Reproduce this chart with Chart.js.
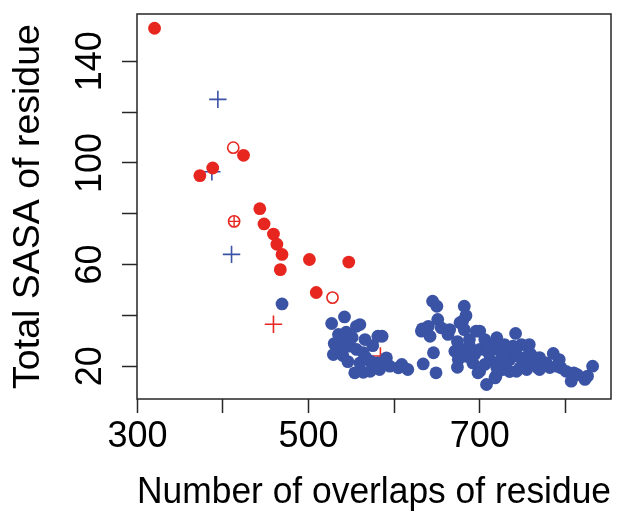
<!DOCTYPE html>
<html><head><meta charset="utf-8">
<script src="https://cdn.jsdelivr.net/npm/chart.js@4/dist/chart.umd.min.js"></script>
<style>html,body{margin:0;padding:0;background:#fff;}#wrap{width:624px;height:516px;}</style>
</head><body><div id="wrap"><canvas id="c" width="624" height="516"></canvas></div>
<script>
const xTitle = 'Number of overlaps of residue';
const yTitle = 'Total SASA of residue';
const xTicks = [300, 400, 500, 600, 700, 800];
const xTickLabels = ['300', '', '500', '', '700', ''];
const yTicks = [20, 40, 60, 80, 100, 120, 140];
const yTickLabels = ['20', '', '60', '', '100', '', '140'];
const xRange = [299.5, 853.5];
const yRange = [7.1, 158.6];

const redFilled = [[320,153],[373,95],[388,98],[424,103],[443,82],[448,76],[459,72],[463,68],[469,64],[467,58],[501,62],[547,61],[509,49]];
const redOpen = [[412,106],[528,47]];
const redCirclePlus = [[413,77]];
const redCross = [[459,36.5],[584,24]];
const blueCross = [[394,125],[387,96.5],[410,64]];
const blueFilled = [[469,44.5],
 [527,36.8],[542,39.4],[556,35.7],[535,32.5],[544,33.4],[530,28.9],[540,29.8],[548,27.9],[529,24.6],[540,24.2],[556,26.6],[564,25.3],[575,28.1],[560,21.3],[572,22.0],[554,17.4],[564,17.6],[572,18.0],[581,31.8],[560,36.4],[586,31.8],[581,21.3],[591,23.3],[595,20.0],[605,19.4],[609,20.7],[616,18.7],[575,21.3],[583,18.7],[537,26.6],[551,31.3],[567,23.4],[546,21.8],[566,30.5],
 [645,45.6],[650,43.6],[682,43.6],[684,39.9],[680,37.7],[651,38.4],[633,34.7],[640,35.7],[642,31.8],[655,35.1],[663,32.5],[665,34.4],[696,33.8],[682,34.4],[677,37.1],[646,25.3],[634,20.9],[649,17.4],[671,25.9],[675,22.6],[674,19.6],[688,27.9],[684,23.9],[700,26.6],[708,27.9],[692,21.3],[700,18.0],[708,12.8],[719,16.1],[698,17.4],[688,30.5],[674,29.7],[694,24.6],[679,26.6],[632,33.8],
 [720,31.2],[742,32.9],[725,25.3],[735,22.6],[739,27.9],[745,23.9],[751,20.0],[760,24.6],[768,19.4],[774,20.7],[786,25.0],[790,20.0],[795,19.4],[801,18.0],[807,14.1],[810,17.4],[823,14.8],[826,16.1],[832,20.0],[727,18.7],[743,18.0],[755,18.7],[718,15.4],[700,33.8],[758,25.3],[778,21.3],[747,19.4],[731,21.3],[712,22.6],[723,21.8],[735,17.9],[706,30.5],[714,26.6],[729,28.5],[753,22.6],[764,21.8],[782,19.5],[814,16.7],[770,18.7],
 [709,25.8],[717.5,28.5],[729,24.6],[741,26.6],[749,28.5],[720,19.5],[706,20.7],[758,28.5],[770,23.4],[793,22.6]];

const RED = '#E6261F';
const BLUE = '#3A53A5';
const AXIS = '#262626';
const FONT = "'Liberation Sans', Arial, Helvetica, sans-serif";
const pts = a => a.map(p => ({x: p[0], y: p[1]}));

const boxPlugin = {
  id: 'box',
  afterDatasetsDraw(chart) {
    const a = chart.chartArea, ctx = chart.ctx;
    ctx.save();
    ctx.strokeStyle = AXIS; ctx.lineWidth = 1.5;
    ctx.strokeRect(a.left, a.top, a.right - a.left, a.bottom - a.top);
    ctx.restore();
  }
};

new Chart(document.getElementById('c'), {
  type: 'scatter',
  data: { datasets: [
    {label:'redFilled', data: pts(redFilled), pointStyle:'circle', pointRadius:6.4, backgroundColor:RED, borderColor:RED, borderWidth:0, order:1},
    {label:'redOpen', data: pts(redOpen), pointStyle:'circle', pointRadius:5.6, backgroundColor:'rgba(0,0,0,0)', borderColor:RED, borderWidth:1.6, order:2},
    {label:'redCirclePlusRing', data: pts(redCirclePlus), pointStyle:'circle', pointRadius:5.6, backgroundColor:'rgba(0,0,0,0)', borderColor:RED, borderWidth:1.6, order:2},
    {label:'redCirclePlusCross', data: pts(redCirclePlus), pointStyle:'cross', pointRadius:5.6, borderColor:RED, borderWidth:1.4, order:2},
    {label:'blueFilled', data: pts(blueFilled), pointStyle:'circle', pointRadius:6.4, backgroundColor:BLUE, borderColor:BLUE, borderWidth:0, order:3},
    {label:'redCross', data: pts(redCross), pointStyle:'cross', pointRadius:8.7, borderColor:RED, borderWidth:1.6, order:4},
    {label:'blueCross', data: pts(blueCross), pointStyle:'cross', pointRadius:8.7, borderColor:BLUE, borderWidth:1.6, order:5}
  ]},
  options: {
    responsive: false, animation: false,
    layout: { padding: {top: 14, right: 13, left: 0, bottom: 0} },
    plugins: { legend: {display:false}, tooltip: {enabled:false} },
    scales: {
      x: {
        type: 'linear', min: xRange[0], max: xRange[1],
        afterBuildTicks: s => { s.ticks = xTicks.map(v => ({value: v})); },
        afterFit: s => { s.height = 117; s.paddingLeft = 0; s.paddingRight = 0; },
        border: {display: false},
        grid: {display: true, drawOnChartArea: false, drawTicks: true, tickLength: 14, tickColor: AXIS, tickWidth: 1.5},
        ticks: {autoSkip: false, maxRotation: 0, minRotation: 0, padding: 2, color: '#000',
          font: {family: FONT, size: 36},
          callback: (v, i) => xTickLabels[xTicks.indexOf(v)] ?? ''},
        title: {display: true, text: xTitle, color: '#000', font: {family: FONT, size: 37.5}, padding: {top: 0, bottom: 1}}
      },
      y: {
        type: 'linear', min: yRange[0], max: yRange[1],
        afterBuildTicks: s => { s.ticks = yTicks.map(v => ({value: v})); },
        afterFit: s => { s.width = 137; s.paddingTop = 0; s.paddingBottom = 0; },
        border: {display: false},
        grid: {display: true, drawOnChartArea: false, drawTicks: true, tickLength: 15, tickColor: AXIS, tickWidth: 1.5},
        ticks: {autoSkip: false, minRotation: 90, maxRotation: 90, crossAlign: 'center', padding: 1, color: '#000',
          font: {family: FONT, size: 36},
          callback: (v) => yTickLabels[yTicks.indexOf(v)] ?? ''},
        title: {display: true, text: yTitle, color: '#000', font: {family: FONT, size: 37.5}, padding: {top: 6, bottom: 0}}
      }
    }
  },
  plugins: [boxPlugin]
});
</script></body></html>
